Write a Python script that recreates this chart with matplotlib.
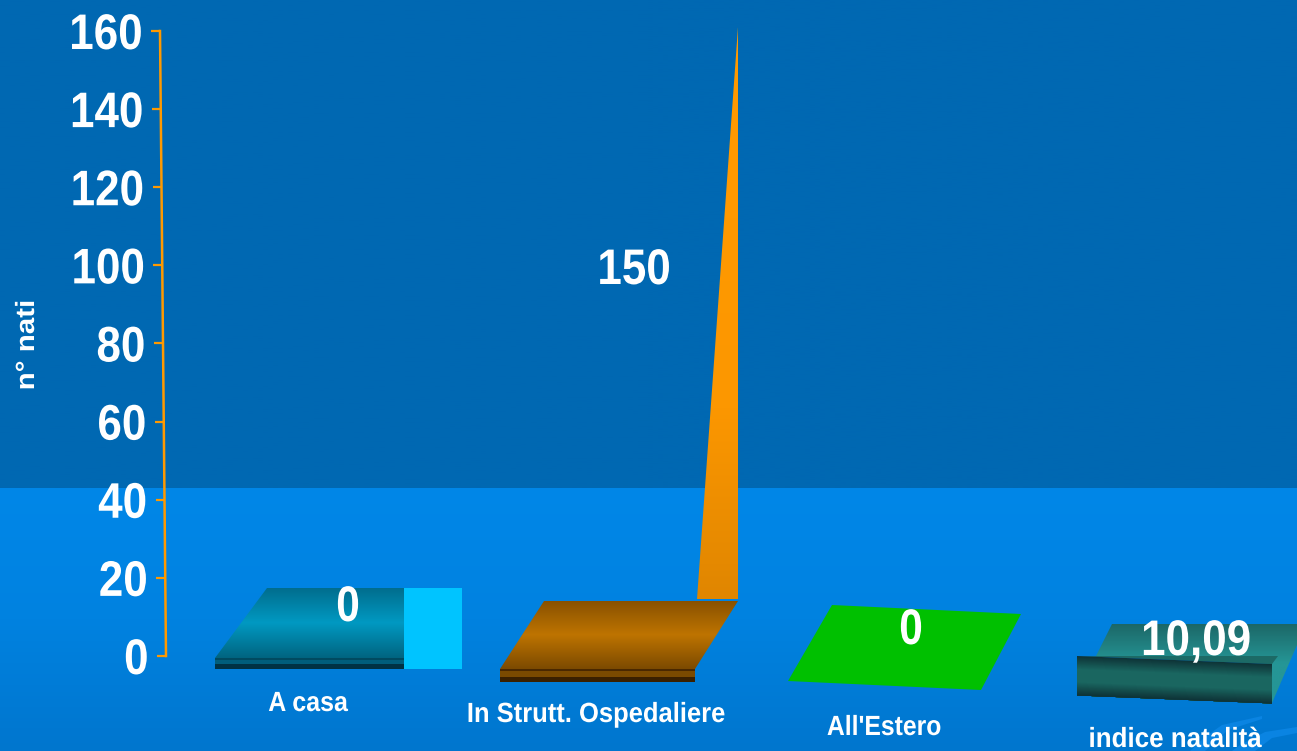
import numpy as np
import matplotlib
matplotlib.use("Agg")
import matplotlib.pyplot as plt
import matplotlib.patheffects as pe
from matplotlib.colors import LinearSegmentedColormap
from matplotlib.patches import Polygon
from matplotlib.transforms import Affine2D

plt.rcParams['font.family'] = ['Liberation Sans', 'DejaVu Sans']
plt.rcParams['font.weight'] = 'bold'

# data
categories = ["A casa", "In Strutt. Ospedaliere", "All'Estero", "indice natalità"]
values = [0, 150, 0, 10.09]
value_labels = ["0", "150", "0", "10,09"]
y_ticks = [0, 20, 40, 60, 80, 100, 120, 140, 160]
y_title = "n° nati"

W, H = 1297, 751
Y0 = 656        # pixel row of value 0
UNIT = 625 / 160  # pixels per n° nati


def Y(row):
    return (Y0 - row) / UNIT


fig = plt.figure(figsize=(W / 100, H / 100), dpi=100)
ax = fig.add_axes([0, 0, 1, 1])
ax.set_xlim(0, W)
ax.set_ylim(Y(H), Y(0))
ax.axis('off')


class Squeeze(pe.AbstractPathEffect):
    # the original uses a condensed face, so squeeze the glyphs around the text anchor
    def __init__(self, anchor, sx=1.0, sy=1.0):
        super().__init__()
        self.anchor, self.sx, self.sy = anchor, sx, sy

    def draw_path(self, renderer, gc, tpath, affine, rgbFace=None):
        ax_, ay_ = self.anchor
        t = affine + Affine2D().translate(-ax_, -ay_).scale(self.sx, self.sy).translate(ax_, ay_)
        renderer.draw_path(gc, tpath, t, rgbFace)


def label(x, y, s, size, sx=1.0, sy=1.0, **kw):
    kw.setdefault('ha', 'center')
    kw.setdefault('va', 'center_baseline')
    t = ax.text(x, y, s, color='white', fontsize=size, zorder=6, **kw)
    t.set_path_effects([Squeeze(ax.transData.transform((x, y)), sx, sy)])
    return t


def grad_poly(pts, stops, z=2):
    # polygon with a vertical gradient, stops listed from top to bottom
    pts = [(x, Y(r)) for x, r in pts]
    ys = [p[1] for p in pts]
    xs = [p[0] for p in pts]
    cmap = LinearSegmentedColormap.from_list('g', stops)
    im = ax.imshow(np.linspace(0, 1, 256).reshape(-1, 1), cmap=cmap, aspect='auto', origin='upper',
                   extent=(min(xs), max(xs), min(ys), max(ys)), zorder=z)
    im.set_clip_path(Polygon(pts, closed=True, transform=ax.transData))


def flat_poly(pts, color, z=2):
    ax.add_patch(Polygon([(x, Y(r)) for x, r in pts], closed=True, fc=color, ec='none', zorder=z))


# background
grad_poly([(0, 0), (W, 0), (W, 488), (0, 488)], ['#0068B2', '#0068B2'], z=0)
grad_poly([(0, 488), (W, 488), (W, H), (0, H)], ['#0087E8', '#0082E0', '#0076CE'], z=0)
flat_poly([(1190, 751), (1205, 737), (1222, 725), (1262, 716), (1262, 719), (1228, 730), (1205, 751)], '#0A84E2', z=1)
flat_poly([(1232, 751), (1240, 745), (1265, 732), (1297, 727), (1297, 733), (1272, 738), (1255, 751)], '#0A84E2', z=1)

# y axis, leaning slightly to the left going up
axis_x = [166 - 6 * t / 160 for t in y_ticks]
ax.plot(axis_x, y_ticks, color='#FF9900', lw=1.8, zorder=3)
for t, x in zip(y_ticks, axis_x):
    ax.plot([x - 9, x], [t, t], color='#FF9900', lw=1.6, zorder=3, solid_capstyle='butt')
    label(x - 17.5, t, str(t), 36, sx=0.88, ha='right')
label(27, Y(345), y_title, 19, sy=1.12, rotation=90, va='center')

# A casa
grad_poly([(215, 658), (267, 588), (404, 588), (404, 658)], ['#006C8C', '#0099C2', '#006480'])
flat_poly([(215, 658), (404, 658), (404, 660), (215, 660)], '#004A60')
flat_poly([(215, 660), (404, 660), (404, 664), (215, 664)], '#005E7C')
flat_poly([(215, 664), (404, 664), (404, 669), (215, 669)], '#003244')
flat_poly([(404, 588), (462, 588), (462, 669), (404, 669)], '#00C4FF')

# In Strutt. Ospedaliere
grad_poly([(500, 669), (544, 601), (738, 601), (695, 669)], ['#875000', '#BE7400', '#7C4A00'])
flat_poly([(500, 669), (695, 669), (695, 671), (500, 671)], '#4A2800')
flat_poly([(500, 671), (695, 671), (695, 677), (500, 677)], '#7A4A00')
flat_poly([(500, 677), (695, 677), (695, 682), (500, 682)], '#3A2000')
tip_row = 599 - values[1] * 0.976 * UNIT
grad_poly([(697, 599), (738, 599), (738, tip_row)], ['#FF9900', '#FF9900', '#FC9700', '#E08600'])

# All'Estero
flat_poly([(788, 681), (832, 605), (1021, 614), (981, 690)], '#00C000')

# indice natalità: front height comes from the value
grad_poly([(1096, 656), (1112, 624), (1297, 624), (1297, 645), (1272, 703), (1272, 664)],
          ['#1C6666', '#259696', '#259696'])
flat_poly([(1077, 656), (1278, 656), (1272, 664)], '#1C6A66', z=3)
front_px = values[3] * UNIT
front_map = LinearSegmentedColormap.from_list('front', ['#0E3438', '#1A6660', '#1A6660', '#0E3438'])
n = 40
bottom = 656 + front_px
for i in range(n):
    # each slice runs to the bottom and the next one paints over it, so no seams show
    a = 656 + front_px * i / n
    flat_poly([(1077, a), (1272, a + 8), (1272, bottom + 8), (1077, bottom)], front_map(i / (n - 1)), z=3)

# labels
label_pos = [(348, 603), (634, 266), (911, 626), (1196, 637)]
label_sx = [0.85, 0.88, 0.85, 0.88]
cat_pos = [(308, 711), (596, 722), (884, 735), (1175, 747)]
cat_sx = [0.90, 0.92, 0.89, 0.935]
for (lx, lr), s, sx in zip(label_pos, value_labels, label_sx):
    label(lx, Y(lr), s, 36, sx=sx)
for (cx, cr), s, sx in zip(cat_pos, categories, cat_sx):
    label(cx, Y(cr), s, 20, sx=sx, va='baseline')

ax.set_xlim(0, W)
ax.set_ylim(Y(H), Y(0))
fig.savefig('out.png', dpi=100)
